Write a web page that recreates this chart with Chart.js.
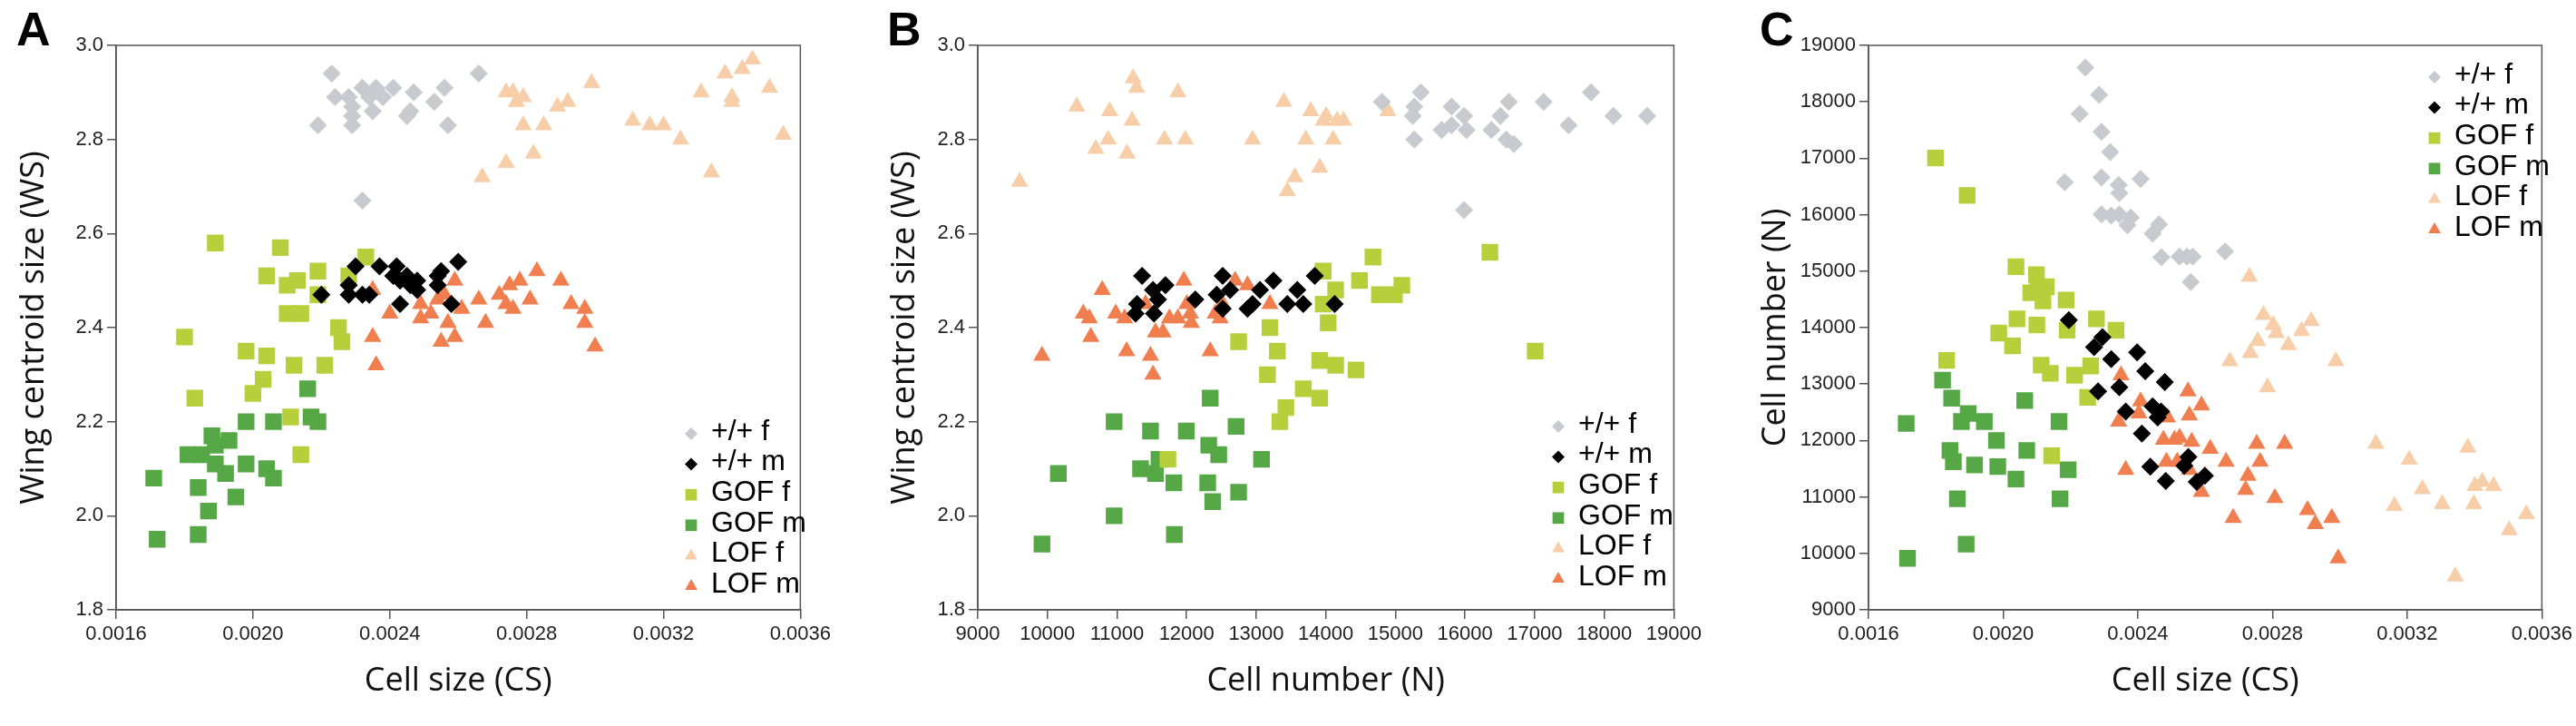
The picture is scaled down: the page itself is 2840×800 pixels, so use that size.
<!DOCTYPE html>
<html><head><meta charset="utf-8">
<script src="https://cdn.jsdelivr.net/npm/chart.js@4"></script>
<style>
body{margin:0;background:#fff;width:2840px;height:800px;overflow:hidden;font-family:"Liberation Sans",Arial,sans-serif}
.p{position:absolute;top:0;width:920px;height:800px}
.lt{position:absolute;top:2px;font:bold 52px "Liberation Sans",Arial,sans-serif}
</style></head><body>
<div class="p" style="left:0"><canvas id="cA"></canvas></div>
<div class="p" style="left:960px"><canvas id="cB"></canvas></div>
<div class="p" style="left:1920px"><canvas id="cC"></canvas></div>
<div class="lt" style="left:18px">A</div>
<div class="lt" style="left:978px">B</div>
<div class="lt" style="left:1940px">C</div>
<script>
var seriesNames = ["+/+ f", "+/+ m", "GOF f", "GOF m", "LOF f", "LOF m"];
var seriesColors = ["#c9cacf", "#000000", "#b6cf3b", "#56a847", "#f7cea8", "#f07e4f"];
var seriesShapes = ["rectRot", "rectRot", "rect", "rect", "triangle", "triangle"];
var pointSizes = {rectRot: 10, rect: 13, triangle: 11};
var legendSizes = {rectRot: 7, rect: 9, triangle: 8};

// panel A: cell size (CS) vs wing centroid size (WS)
var aWtF = [[0.00223,2.94],[0.00224,2.89],[0.00228,2.89],[0.00229,2.87],[0.00229,2.85],[0.00229,2.83],[0.00219,2.83],[0.00232,2.91],[0.00234,2.89],[0.00235,2.86],[0.00236,2.91],[0.00238,2.89],[0.00241,2.91],[0.00245,2.85],[0.00246,2.86],[0.00247,2.90],[0.00253,2.88],[0.00256,2.91],[0.00257,2.83],[0.00266,2.94],[0.00232,2.67]];
var aWtM = [[0.00220,2.47],[0.00228,2.47],[0.00230,2.53],[0.00232,2.47],[0.00234,2.47],[0.00237,2.53],[0.00241,2.51],[0.00242,2.53],[0.00243,2.50],[0.00243,2.45],[0.00245,2.51],[0.00246,2.49],[0.00248,2.48],[0.00248,2.50],[0.00254,2.51],[0.00255,2.52],[0.00254,2.49],[0.00258,2.45],[0.00260,2.54],[0.00228,2.49]];
var aGofF = [[0.00189,2.58],[0.00208,2.57],[0.00233,2.55],[0.00204,2.51],[0.00219,2.52],[0.00228,2.51],[0.00210,2.49],[0.00213,2.50],[0.00219,2.47],[0.00210,2.43],[0.00214,2.43],[0.00180,2.38],[0.00198,2.35],[0.00204,2.34],[0.00225,2.40],[0.00226,2.37],[0.00212,2.32],[0.00221,2.32],[0.00203,2.29],[0.00200,2.26],[0.00183,2.25],[0.00211,2.21],[0.00214,2.13]];
var aGofM = [[0.00216,2.27],[0.00217,2.21],[0.00219,2.20],[0.00206,2.20],[0.00198,2.20],[0.00188,2.17],[0.00181,2.13],[0.00185,2.13],[0.00189,2.15],[0.00193,2.16],[0.00189,2.11],[0.00192,2.09],[0.00198,2.11],[0.00204,2.10],[0.00206,2.08],[0.00171,2.08],[0.00184,2.06],[0.00187,2.01],[0.00195,2.04],[0.00184,1.96],[0.00172,1.95]];
var aLofF = [[0.00267,2.72],[0.00274,2.75],[0.00282,2.77],[0.00274,2.90],[0.00276,2.90],[0.00277,2.88],[0.00279,2.89],[0.00279,2.83],[0.00285,2.83],[0.00289,2.87],[0.00292,2.88],[0.00299,2.92],[0.00311,2.84],[0.00316,2.83],[0.00320,2.83],[0.00325,2.80],[0.00334,2.73],[0.00331,2.90],[0.00338,2.94],[0.00340,2.89],[0.00340,2.88],[0.00343,2.95],[0.00346,2.97],[0.00351,2.91],[0.00355,2.81]];
var aLofM = [[0.00235,2.48],[0.00240,2.43],[0.00235,2.38],[0.00236,2.32],[0.00249,2.45],[0.00249,2.42],[0.00252,2.43],[0.00256,2.47],[0.00255,2.37],[0.00257,2.41],[0.00259,2.38],[0.00259,2.50],[0.00261,2.44],[0.00266,2.46],[0.00268,2.41],[0.00272,2.47],[0.00274,2.45],[0.00275,2.49],[0.00276,2.44],[0.00278,2.50],[0.00281,2.46],[0.00283,2.52],[0.00290,2.50],[0.00293,2.45],[0.00297,2.44],[0.00297,2.41],[0.00300,2.36],[0.00254,2.46]];

// panel B: cell number (N) vs wing centroid size (WS)
var bWtF = [[14806,2.88],[15271,2.87],[15364,2.90],[15249,2.85],[15271,2.80],[15807,2.87],[15664,2.82],[15807,2.83],[15986,2.85],[16021,2.82],[15986,2.65],[16379,2.82],[16508,2.85],[16629,2.88],[16593,2.80],[16701,2.79],[17130,2.88],[17487,2.83],[17809,2.90],[18131,2.85],[18617,2.85]];
var bWtM = [[11360,2.51],[11288,2.45],[11267,2.43],[11531,2.43],[11517,2.48],[11588,2.46],[11696,2.49],[12125,2.46],[12432,2.47],[12518,2.51],[12518,2.44],[12625,2.48],[12875,2.44],[12947,2.45],[13054,2.48],[13247,2.50],[13447,2.45],[13590,2.48],[13676,2.45],[13841,2.51],[14127,2.45]];
var bGofF = [[14677,2.55],[13962,2.52],[14141,2.48],[14484,2.50],[14770,2.47],[14985,2.47],[15092,2.49],[13962,2.45],[14034,2.41],[13197,2.40],[12747,2.37],[13304,2.35],[13161,2.30],[13912,2.33],[14141,2.32],[14434,2.31],[13676,2.27],[13426,2.23],[13340,2.20],[13912,2.25],[16357,2.56],[17008,2.35],[11731,2.12]];
var bGofM = [[12339,2.25],[10959,2.20],[11481,2.18],[11996,2.18],[12711,2.19],[12318,2.15],[12461,2.13],[13076,2.12],[11338,2.10],[11553,2.09],[11603,2.12],[10158,2.09],[11817,2.07],[12303,2.07],[12747,2.05],[12375,2.03],[10959,2.00],[11824,1.96],[9922,1.94]];
var bLofF = [[9601,2.71],[10423,2.87],[10695,2.78],[10873,2.80],[10895,2.86],[11145,2.77],[11217,2.84],[11231,2.93],[11281,2.91],[11681,2.80],[11874,2.90],[11982,2.80],[12947,2.80],[13397,2.88],[13447,2.69],[13555,2.72],[13712,2.80],[13783,2.86],[13912,2.74],[13962,2.84],[14005,2.85],[14105,2.80],[14162,2.84],[14255,2.84],[14892,2.86]];
var bLofM = [[9922,2.34],[10788,2.48],[10516,2.43],[10602,2.42],[10623,2.38],[10981,2.43],[11109,2.42],[11138,2.35],[11481,2.34],[11517,2.30],[11410,2.45],[11553,2.39],[11660,2.39],[11753,2.42],[11874,2.42],[11960,2.50],[12003,2.45],[12067,2.41],[12339,2.35],[12411,2.43],[12482,2.42],[12518,2.45],[12697,2.50],[12875,2.49],[13197,2.45],[12053,2.43]];

// panel C: cell size (CS) vs cell number (N)
var cWtF = [[0.002244,18608],[0.002285,18123],[0.002227,17788],[0.002292,17468],[0.002318,17111],[0.002183,16577],[0.002292,16662],[0.002343,16527],[0.002345,16384],[0.002408,16634],[0.002292,16007],[0.002321,15985],[0.002345,16007],[0.002379,15950],[0.002369,15814],[0.002444,15665],[0.002463,15828],[0.002470,15244],[0.002524,15258],[0.002546,15258],[0.002563,15258],[0.002557,14809],[0.002659,15351]];
var cWtM = [[0.002195,14132],[0.002295,13833],[0.002270,13655],[0.002321,13441],[0.002398,13562],[0.002422,13227],[0.002480,13035],[0.002282,12871],[0.002345,12942],[0.002364,12514],[0.002412,12122],[0.002444,12607],[0.002459,12407],[0.002469,12514],[0.002550,11709],[0.002538,11552],[0.002437,11538],[0.002483,11281],[0.002575,11267],[0.002599,11374]];
var cGofF = [[0.001799,17004],[0.001893,16342],[0.002038,15080],[0.002099,14938],[0.002103,14724],[0.002128,14724],[0.002082,14617],[0.002118,14474],[0.002187,14489],[0.002277,14154],[0.002041,14154],[0.002100,14047],[0.001987,13904],[0.002028,13676],[0.002190,13954],[0.002335,13954],[0.002113,13334],[0.002140,13191],[0.002212,13156],[0.002260,13320],[0.002251,12764],[0.001832,13420],[0.002144,11730]];
var cGofM = [[0.001820,13070],[0.001847,12750],[0.001896,12479],[0.001876,12336],[0.001944,12336],[0.001712,12301],[0.002064,12707],[0.002166,12336],[0.001980,12001],[0.002070,11823],[0.001842,11823],[0.001852,11624],[0.001915,11567],[0.001984,11538],[0.002038,11317],[0.002193,11481],[0.001864,10968],[0.002169,10968],[0.001890,10163],[0.001716,9913]];
var cLofF = [[0.002731,14902],[0.002773,14225],[0.002802,14047],[0.002811,13904],[0.002756,13762],[0.002734,13548],[0.002847,13690],[0.002886,13940],[0.002915,14118],[0.002673,13405],[0.002988,13405],[0.002785,12942],[0.003107,11944],[0.003206,11659],[0.003162,10840],[0.003245,11139],[0.003304,10875],[0.003380,11873],[0.003401,11196],[0.003423,11267],[0.003456,11196],[0.003398,10875],[0.003503,10412],[0.003554,10697],[0.003343,9592]];
var cLofM = [[0.002350,13156],[0.002343,12336],[0.002364,11481],[0.002408,12693],[0.002403,12479],[0.002488,12408],[0.002476,12016],[0.002524,12051],[0.002560,11980],[0.002549,12871],[0.002553,12443],[0.002589,12621],[0.002485,11624],[0.002553,11481],[0.002589,11089],[0.002615,11852],[0.002662,11624],[0.002753,11944],[0.002763,11624],[0.002727,11374],[0.002720,11125],[0.002807,10982],[0.002836,11944],[0.002904,10768],[0.002927,10519],[0.002976,10626],[0.002995,9913],[0.002683,10626],[0.002517,11624],[0.002509,12016]];

var csTicks = [0.0016, 0.0020, 0.0024, 0.0028, 0.0032, 0.0036];
var nTicks = [9000, 10000, 11000, 12000, 13000, 14000, 15000, 16000, 17000, 18000, 19000];
var wsTicks = [1.8, 2.0, 2.2, 2.4, 2.6, 2.8, 3.0];

// box around plot + legend drawn inside the plot
var boxLegend = {
  id: "boxLegend",
  afterDraw: function(chart, args, o) {
    var c = chart.ctx, a = chart.chartArea;
    c.save();
    c.strokeStyle = "#555"; c.lineWidth = 1.5;
    c.strokeRect(a.left, a.top, a.right - a.left, a.bottom - a.top);
    c.font = "32px 'Liberation Sans', Arial, sans-serif";
    c.textBaseline = "middle";
    for (var i = 0; i < seriesNames.length; i++) {
      var y = o.y + i * 33.6;
      c.fillStyle = seriesColors[i];
      Chart.helpers.drawPoint(c, {pointStyle: seriesShapes[i], radius: legendSizes[seriesShapes[i]], borderWidth: 0}, o.x, y + 2);
      c.fillStyle = "#000";
      c.fillText(seriesNames[i], o.x + 22, y);
    }
    c.restore();
  }
};

function makeChart(id, sets, xTicks, yTicks, xTitle, yTitle, yW, padR, legX, legY, xFmt, yFmt) {
  var ds = sets.map(function(s, i) {
    return {
      label: seriesNames[i],
      data: s.map(function(p) { return {x: p[0], y: p[1]}; }),
      pointStyle: seriesShapes[i],
      backgroundColor: seriesColors[i],
      borderWidth: 0,
      pointRadius: pointSizes[seriesShapes[i]]
    };
  });
  function axis(ticks, title, fmt, isY) {
    return {
      type: "linear", min: ticks[0], max: ticks[ticks.length - 1],
      afterBuildTicks: function(s) { s.ticks = ticks.map(function(v) { return {value: v}; }); },
      afterFit: function(s) { if (isY) s.width = yW; else s.height = 104; },
      grid: {drawOnChartArea: false, tickLength: 10, color: "#555", lineWidth: 1.5},
      border: {color: "#555", width: 1.5},
      ticks: {color: "#222", font: {size: 22, family: "'Liberation Sans', Arial"}, padding: 4, callback: fmt},
      title: {display: true, text: title, color: "#111", font: {size: 36, family: "'Open Sans', 'Liberation Sans'"}, padding: isY ? {top: 16} : {top: 6}}
    };
  }
  new Chart(document.getElementById(id), {
    type: "scatter",
    data: {datasets: ds},
    options: {
      responsive: false, animation: false,
      layout: {padding: {top: 50, right: padR, left: 0, bottom: 24}},
      plugins: {legend: {display: false}, tooltip: {enabled: false}, boxLegend: {x: legX, y: legY}},
      scales: {x: axis(xTicks, xTitle, xFmt, false), y: axis(yTicks, yTitle, yFmt, true)}
    },
    plugins: [boxLegend]
  });
}
["cA", "cB", "cC"].forEach(function(id) { var e = document.getElementById(id); e.width = 920; e.height = 800; });
var f4 = function(v) { return v.toFixed(4); };
var f1 = function(v) { return v.toFixed(1); };
var f0 = function(v) { return String(v); };
makeChart("cA", [aWtF, aWtM, aGofF, aGofM, aLofF, aLofM], csTicks, wsTicks, "Cell size (CS)", "Wing centroid size (WS)", 128, 22, 762, 476, f4, f1);
makeChart("cB", [bWtF, bWtM, bGofF, bGofM, bLofF, bLofM], nTicks, wsTicks, "Cell number (N)", "Wing centroid size (WS)", 118, 25, 758, 468, f0, f1);
makeChart("cC", [cWtF, cWtM, cGofF, cGofM, cLofF, cLofM], csTicks, nTicks, "Cell size (CS)", "Cell number (N)", 140, 14, 764, 83, f4, f0);
</script></body></html>
